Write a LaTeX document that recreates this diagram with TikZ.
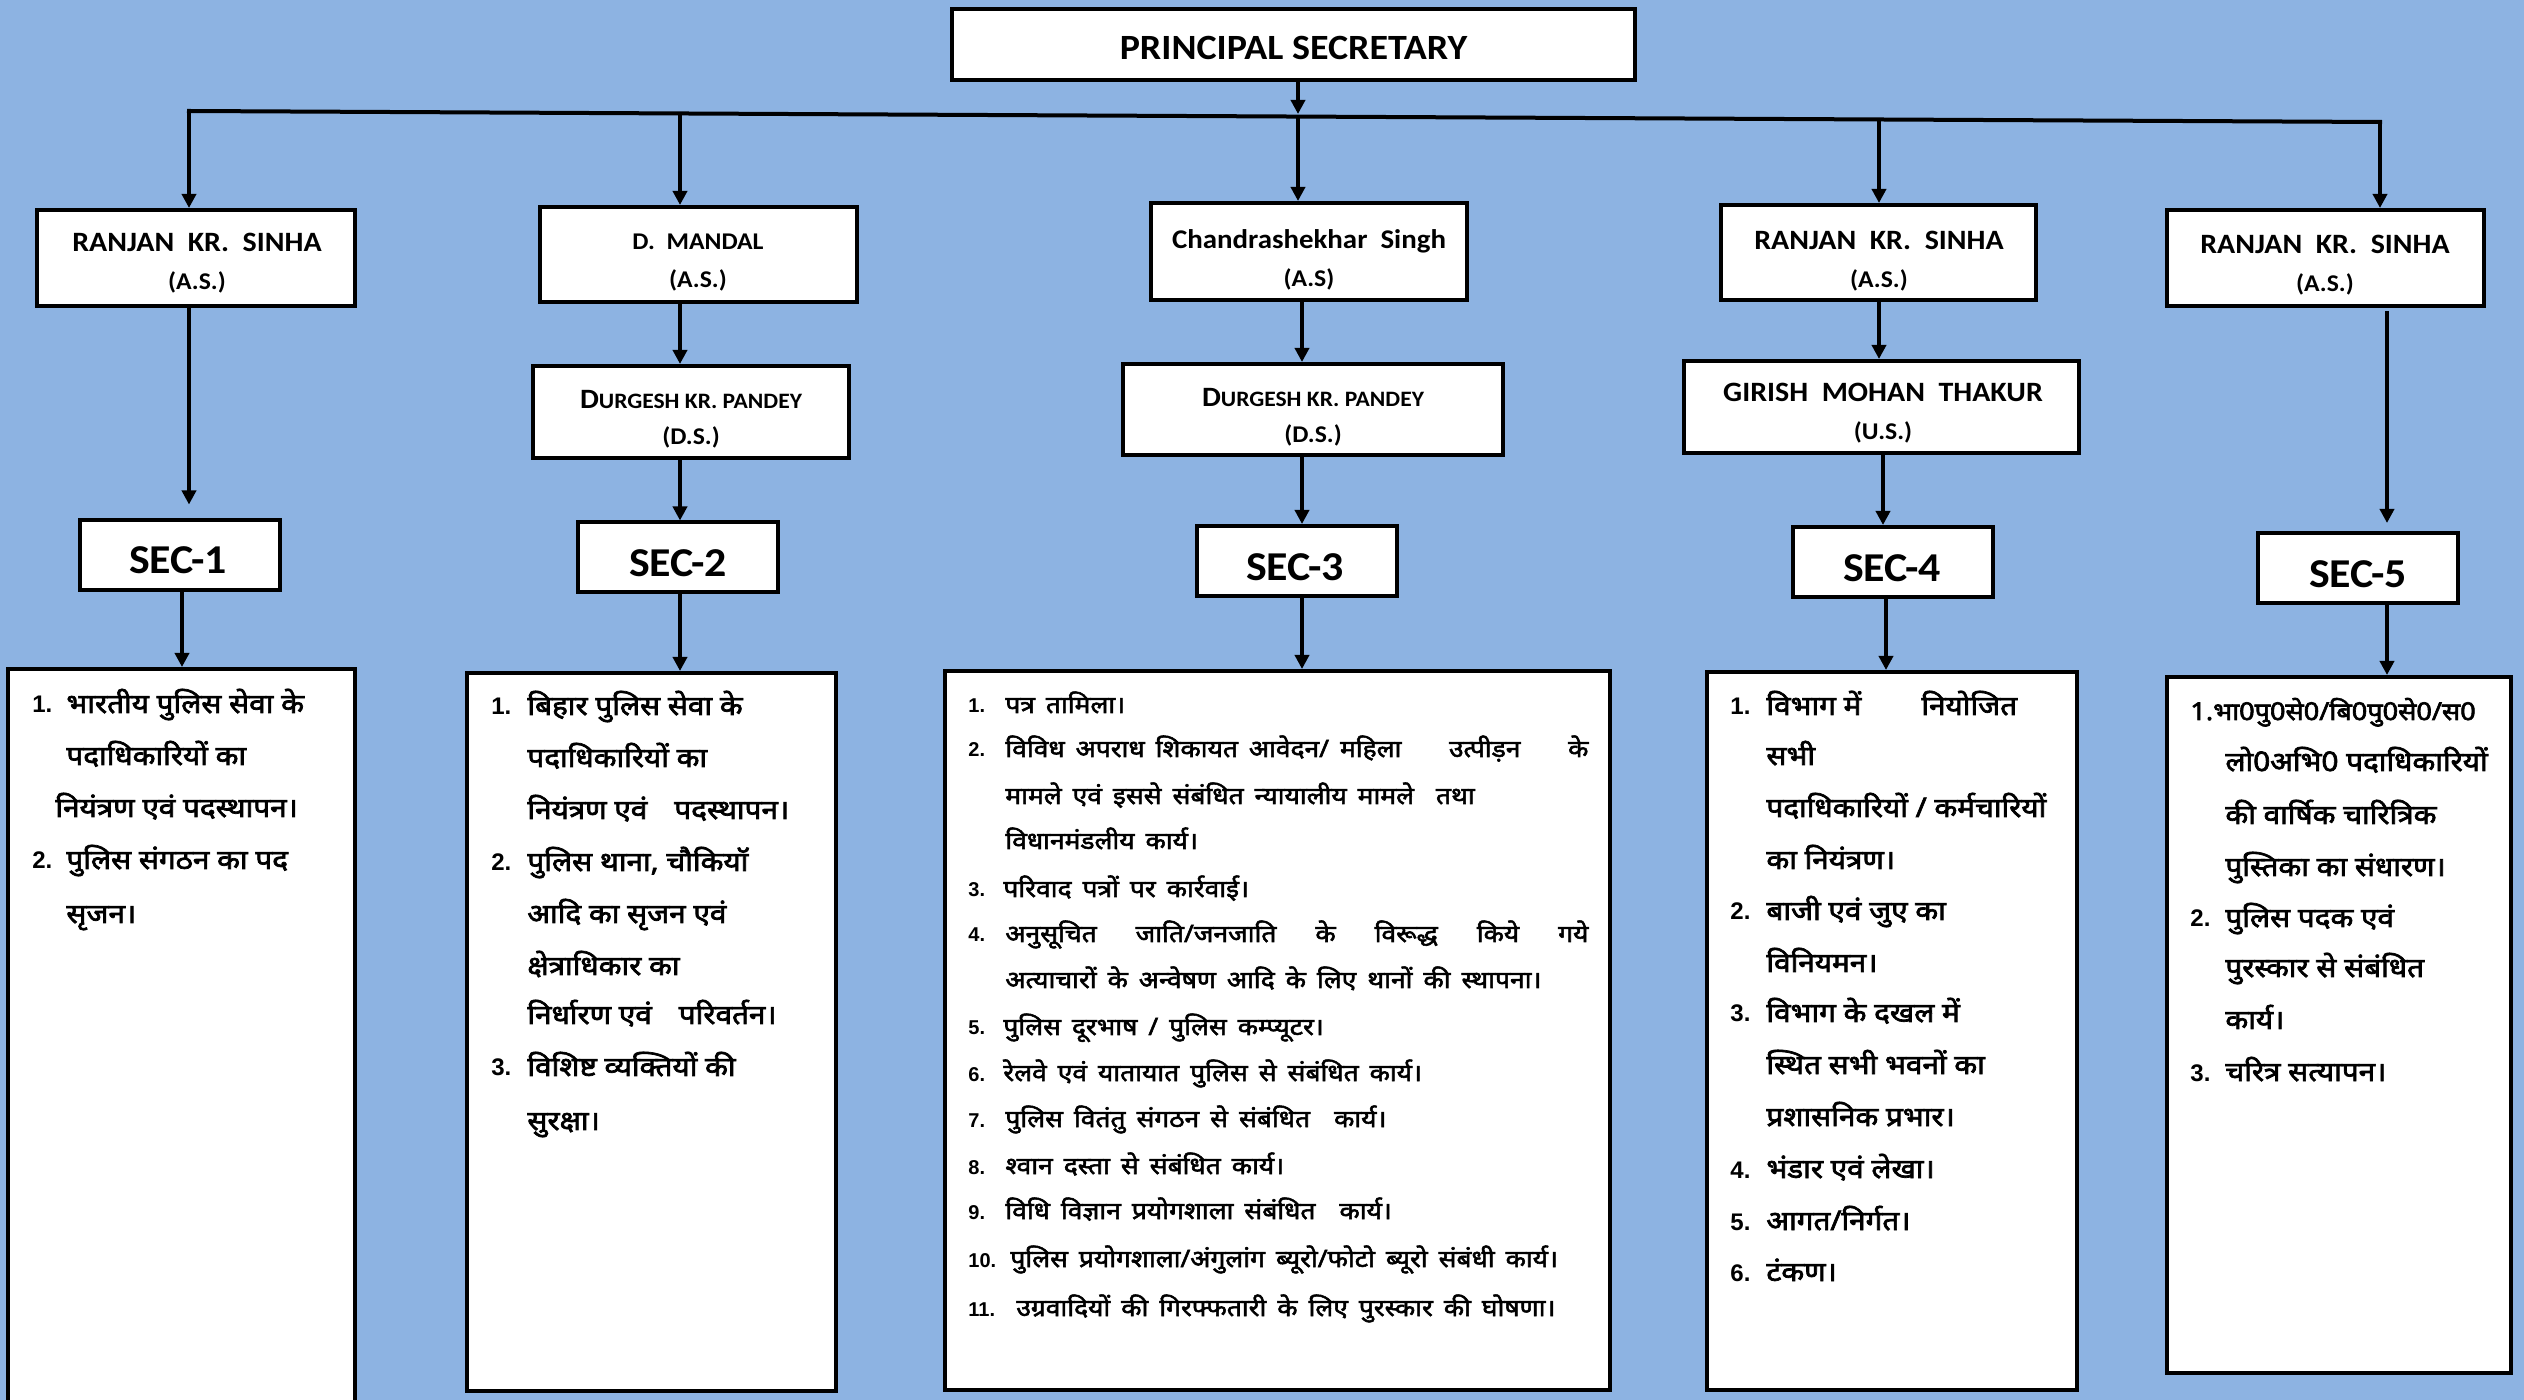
\documentclass[tikz,border=0pt]{standalone}
\usepackage{fontspec}
\setmainfont{Carlito}
\newfontfamily\lat[FakeStretch=1.07]{Carlito}
\newfontfamily\dev[Script=Devanagari, FakeBold=2.6, FakeStretch=1.1]{Noto Sans}
\newfontfamily\devw[Script=Devanagari, FakeBold=2.3, FakeStretch=1.1, WordSpace=1.6]{Noto Sans}
\newfontfamily\numf{Liberation Sans}
\usetikzlibrary{arrows.meta,calc}
\definecolor{bgblue}{RGB}{141,179,226}
\newcommand\nb[2]{\makebox[#1][l]{\numf\bfseries\fontsize{12}{14}\selectfont #2}}
\newcommand\nbs[2]{\makebox[#1][l]{\numf\bfseries\fontsize{10}{12}\selectfont #2}}
\newcommand\asz[1]{{\fontsize{12}{19}\selectfont #1}}
\begin{document}
\begin{tikzpicture}[x=0.5pt,y=-0.5pt,
 bx/.style={draw=black, fill=white, line width=2pt, inner sep=0pt},
 arr/.style={line width=2pt, -{Triangle[length=7pt,width=7pt]}},
 conn/.style={line width=2pt},
 tx/.style={inner sep=0pt, align=center, font=\lat\bfseries\fontsize{14}{19}\selectfont},
 sectx/.style={inner sep=0pt, font=\lat\bfseries\fontsize{20.5}{24}\selectfont},
 secbox/.style={bx, minimum width=100pt, minimum height=35pt},
 lst/.style={draw=black, fill=white, line width=2pt, inner sep=0pt},
 dl/.style={anchor=base west, inner sep=0pt, font=\dev\fontsize{13.5}{15}\selectfont},
 dls/.style={anchor=base west, inner sep=0pt, font=\devw\fontsize{12}{14}\selectfont},
]
\useasboundingbox (0,0) rectangle (2524,1400);
\clip (0,0) rectangle (2524,1400);
\fill[bgblue] (0,0) rectangle (2524,1400);

% top
\node[bx, minimum width=341.5pt, minimum height=35.5pt] (ps) at (1293.5,44.5) {};
\node[inner sep=0pt, font=\lat\bfseries\fontsize{17.75}{20}\selectfont] (pst) at (1293.5,48) {PRINCIPAL SECRETARY};

% row 1
\node[bx, minimum width=159pt, minimum height=48pt] (r1) at (196,258) {};
\node[tx] (r1t) at (197,263) {RANJAN~ KR.~ SINHA\\\asz{(A.S.)}};
\node[bx, minimum width=158.5pt, minimum height=47.5pt] (r2) at (698.5,254.5) {};
\node[tx] (r2t) at (698,263) {{\fontsize{12}{19}\selectfont D.~ MANDAL}\\\asz{(A.S.)}};
\node[bx, minimum width=158pt, minimum height=48.5pt] (r3) at (1309,251.5) {};
\node[tx] (r3t) at (1309,260) {{\fontsize{13.5}{19}\selectfont Chandrashekhar~ Singh}\\\asz{(A.S)}};
\node[bx, minimum width=157.5pt, minimum height=47.5pt] (r4) at (1878.5,252.5) {};
\node[tx] (r4t) at (1879,261.5) {RANJAN~ KR.~ SINHA\\\asz{(A.S.)}};
\node[bx, minimum width=158.5pt, minimum height=48pt] (r5) at (2325.5,258) {};
\node[tx] (r5t) at (2325,265.5) {RANJAN~ KR.~ SINHA\\\asz{(A.S.)}};

% row 2
\node[bx, minimum width=158pt, minimum height=46pt] (d2) at (691,412) {};
\node[tx, font=\lat\bfseries\fontsize{11}{18}\selectfont] (d2t) at (691,419) {{\fontsize{14}{18}\selectfont D}URGESH KR. PANDEY\\\asz{(D.S.)}};
\node[bx, minimum width=190pt, minimum height=45.5pt] (d3) at (1313,409.5) {};
\node[tx, font=\lat\bfseries\fontsize{11}{18}\selectfont] (d3t) at (1313,417) {{\fontsize{14}{18}\selectfont D}URGESH KR. PANDEY\\\asz{(D.S.)}};
\node[bx, minimum width=197.5pt, minimum height=46pt] (g4) at (1881.5,407) {};
\node[tx] (g4t) at (1883,413.5) {GIRISH~ MOHAN~ THAKUR\\\asz{(U.S.)}};

% sections
\node[secbox] (s1) at (179.5,555.5) {};
\node[sectx] (s1t) at (178,560) {SEC-1};
\node[secbox] (s2) at (678,557.5) {};
\node[sectx] (s2t) at (678,563) {SEC-2};
\node[secbox] (s3) at (1296.5,561) {};
\node[sectx] (s3t) at (1295,567) {SEC-3};
\node[secbox] (s4) at (1893,562) {};
\node[sectx] (s4t) at (1892,568) {SEC-4};
\node[secbox] (s5) at (2358,568) {};
\node[sectx] (s5t) at (2358,574) {SEC-5};

% list boxes
\node[lst, minimum width=173.5pt, minimum height=375.5pt] (L1) at (181.5,1044.5) {};
\node[lst, minimum width=184.5pt, minimum height=359pt] (L2) at (651.5,1032) {};
\node[lst, minimum width=332.5pt, minimum height=359.5pt] (L3) at (1277.5,1030.5) {};
\node[lst, minimum width=185pt, minimum height=359pt] (L4) at (1892,1031) {};
\node[lst, minimum width=172pt, minimum height=348pt] (L5) at (2339,1025) {};

% connectors
\coordinate (hl) at (189,111);
\coordinate (hr) at (2380,122);
\coordinate (j2) at (680,113.5);
\coordinate (j3) at (1298,117);
\coordinate (j4) at (1879,119.5);
\coordinate (k1) at (182,0);
\coordinate (k3) at (1302,0);
\coordinate (k4a) at (1883,0);
\coordinate (k4b) at (1886,0);
\coordinate (k5) at (2387,0);

\draw[conn, line cap=rect] (hl) -- (hr);
\draw[arr, shorten >=1.5pt] (ps.south -| j3) -- (j3);
\draw[arr] (hl) -- (hl |- r1.north);
\draw[arr] (j2) -- (j2 |- r2.north);
\draw[arr] (j3) -- (j3 |- r3.north);
\draw[arr] (j4) -- (j4 |- r4.north);
\draw[arr] (hr) -- (hr |- r5.north);

\draw[arr, shorten >=7pt] (hl |- r1.south) -- (hl |- s1.north);
\draw[arr] (k1 |- s1.south) -- (k1 |- L1.north);

\draw[arr] (j2 |- r2.south) -- (j2 |- d2.north);
\draw[arr] (j2 |- d2.south) -- (j2 |- s2.north);
\draw[arr] (j2 |- s2.south) -- (j2 |- L2.north);

\draw[arr] (k3 |- r3.south) -- (k3 |- d3.north);
\draw[arr] (k3 |- d3.south) -- (k3 |- s3.north);
\draw[arr] (k3 |- s3.south) -- (k3 |- L3.north);

\draw[arr] (j4 |- r4.south) -- (j4 |- g4.north);
\draw[arr] (k4a |- g4.south) -- (k4a |- s4.north);
\draw[arr] (k4b |- s4.south) -- (k4b |- L4.north);

\draw[arr, shorten <=1.5pt, shorten >=4pt] (k5 |- r5.south) -- (k5 |- s5.north);
\draw[arr] (k5 |- s5.south) -- (k5 |- L5.north);

% list 1
\node[dl] (a1) at (32,713) {\nb{17pt}{1.}भारतीय पुलिस सेवा के};
\node[dl] (a2) at (66,765) {पदाधिकारियों का};
\node[dl] (a3) at (55,817) {नियंत्रण एवं पदस्थापन।};
\node[dl] (a4) at (32,869) {\nb{17pt}{2.}पुलिस संगठन का पद};
\node[dl] (a5) at (66,923) {सृजन।};

% list 2
\node[dl] (b1) at (491,715) {\nb{18pt}{1.}बिहार पुलिस सेवा के};
\node[dl] (b2) at (527,767) {पदाधिकारियों का};
\node[dl] (b3) at (527,819) {नियंत्रण एवं\quad पदस्थापन।};
\node[dl] (b4) at (491,871) {\nb{18pt}{2.}पुलिस थाना, चौकियॉ};
\node[dl] (b5) at (527,923) {आदि का सृजन एवं};
\node[dl] (b6) at (527,975) {क्षेत्राधिकार का};
\node[dl] (b7) at (527,1024) {निर्धारण एवं\quad परिवर्तन।};
\node[dl] (b8) at (491,1076) {\nb{18pt}{3.}विशिष्ट व्यक्तियों की};
\node[dl] (b9) at (527,1130) {सुरक्षा।};

% list 3
\node[dls] (c1) at (968,713) {\nbs{18.5pt}{1.}पत्र तामिला।};
\node[dls] (c2) at (968,757) {\nbs{18.5pt}{2.}\makebox[291.5pt][l]{विविध अपराध शिकायत आवेदन/ महिला\hfill उत्पीड़न\hfill के}};
\node[dls] (c3) at (1005,804) {मामले एवं इससे संबंधित न्यायालीय मामले\ \ तथा};
\node[dls] (c4) at (1005,849) {विधानमंडलीय कार्य।};
\node[dls] (c5) at (968,897) {\nbs{17.5pt}{3.}परिवाद पत्रों पर कार्रवाई।};
\node[dls] (c6) at (968,942) {\nbs{18.5pt}{4.}\makebox[291.5pt][s]{अनुसूचित जाति/जनजाति के विरूद्ध किये गये}};
\node[dls] (c7) at (1005,988) {अत्याचारों के अन्वेषण आदि के लिए थानों की स्थापना।};
\node[dls] (c8) at (968,1035) {\nbs{17.5pt}{5.}पुलिस दूरभाष / पुलिस कम्प्यूटर।};
\node[dls] (c9) at (968,1081) {\nbs{17.5pt}{6.}रेलवे एवं यातायात पुलिस से संबंधित कार्य।};
\node[dls] (c10) at (968,1127) {\nbs{18.5pt}{7.}पुलिस वितंतु संगठन से संबंधित\quad कार्य।};
\node[dls] (c11) at (968,1174) {\nbs{18.5pt}{8.}श्वान दस्ता से संबंधित कार्य।};
\node[dls] (c12) at (968,1219) {\nbs{18.5pt}{9.}विधि विज्ञान प्रयोगशाला संबंधित\quad कार्य।};
\node[dls] (c13) at (968,1267) {\nbs{21pt}{10.}पुलिस प्रयोगशाला/अंगुलांग ब्यूरो/फोटो ब्यूरो संबंधी कार्य।};
\node[dls] (c14) at (968,1316) {\nbs{24pt}{11.}उग्रवादियों की गिरफ्फतारी के लिए पुरस्कार की घोषणा।};

% list 4
\node[dl] (e1) at (1730,715) {\nb{18pt}{1.}\makebox[77.5pt][l]{विभाग में}नियोजित};
\node[dl] (e2) at (1766,765) {सभी};
\node[dl] (e3) at (1766,817) {पदाधिकारियों / कर्मचारियों};
\node[dl] (e4) at (1766,869) {का नियंत्रण।};
\node[dl] (e5) at (1730,920) {\nb{18pt}{2.}बाजी एवं जुए का};
\node[dl] (e6) at (1766,972) {विनियमन।};
\node[dl] (e7) at (1730,1022) {\nb{18pt}{3.}विभाग के दखल में};
\node[dl] (e8) at (1766,1074) {स्थित सभी भवनों का};
\node[dl] (e9) at (1766,1126) {प्रशासनिक प्रभार।};
\node[dl] (e10) at (1730,1178) {\nb{18pt}{4.}भंडार एवं लेखा।};
\node[dl] (e11) at (1730,1230) {\nb{18pt}{5.}आगत/निर्गत।};
\node[dl] (e12) at (1730,1281) {\nb{18pt}{6.}टंकण।};

% list 5
\node[dl, font=\dev\fontsize{12.3}{15}\selectfont] (f1) at (2190,720) {1.भा0पु0से0/बि0पु0से0/स0};
\node[dl] (f2) at (2225,771) {लो0अभि0 पदाधिकारियों};
\node[dl] (f3) at (2225,824) {की वार्षिक चारित्रिक};
\node[dl] (f4) at (2225,876) {पुस्तिका का संधारण।};
\node[dl] (f5) at (2190,927) {\nb{17.5pt}{2.}पुलिस पदक एवं};
\node[dl] (f6) at (2225,977) {पुरस्कार से संबंधित};
\node[dl] (f7) at (2225,1029) {कार्य।};
\node[dl] (f8) at (2190,1081) {\nb{17.5pt}{3.}चरित्र सत्यापन।};
\end{tikzpicture}
\end{document}
